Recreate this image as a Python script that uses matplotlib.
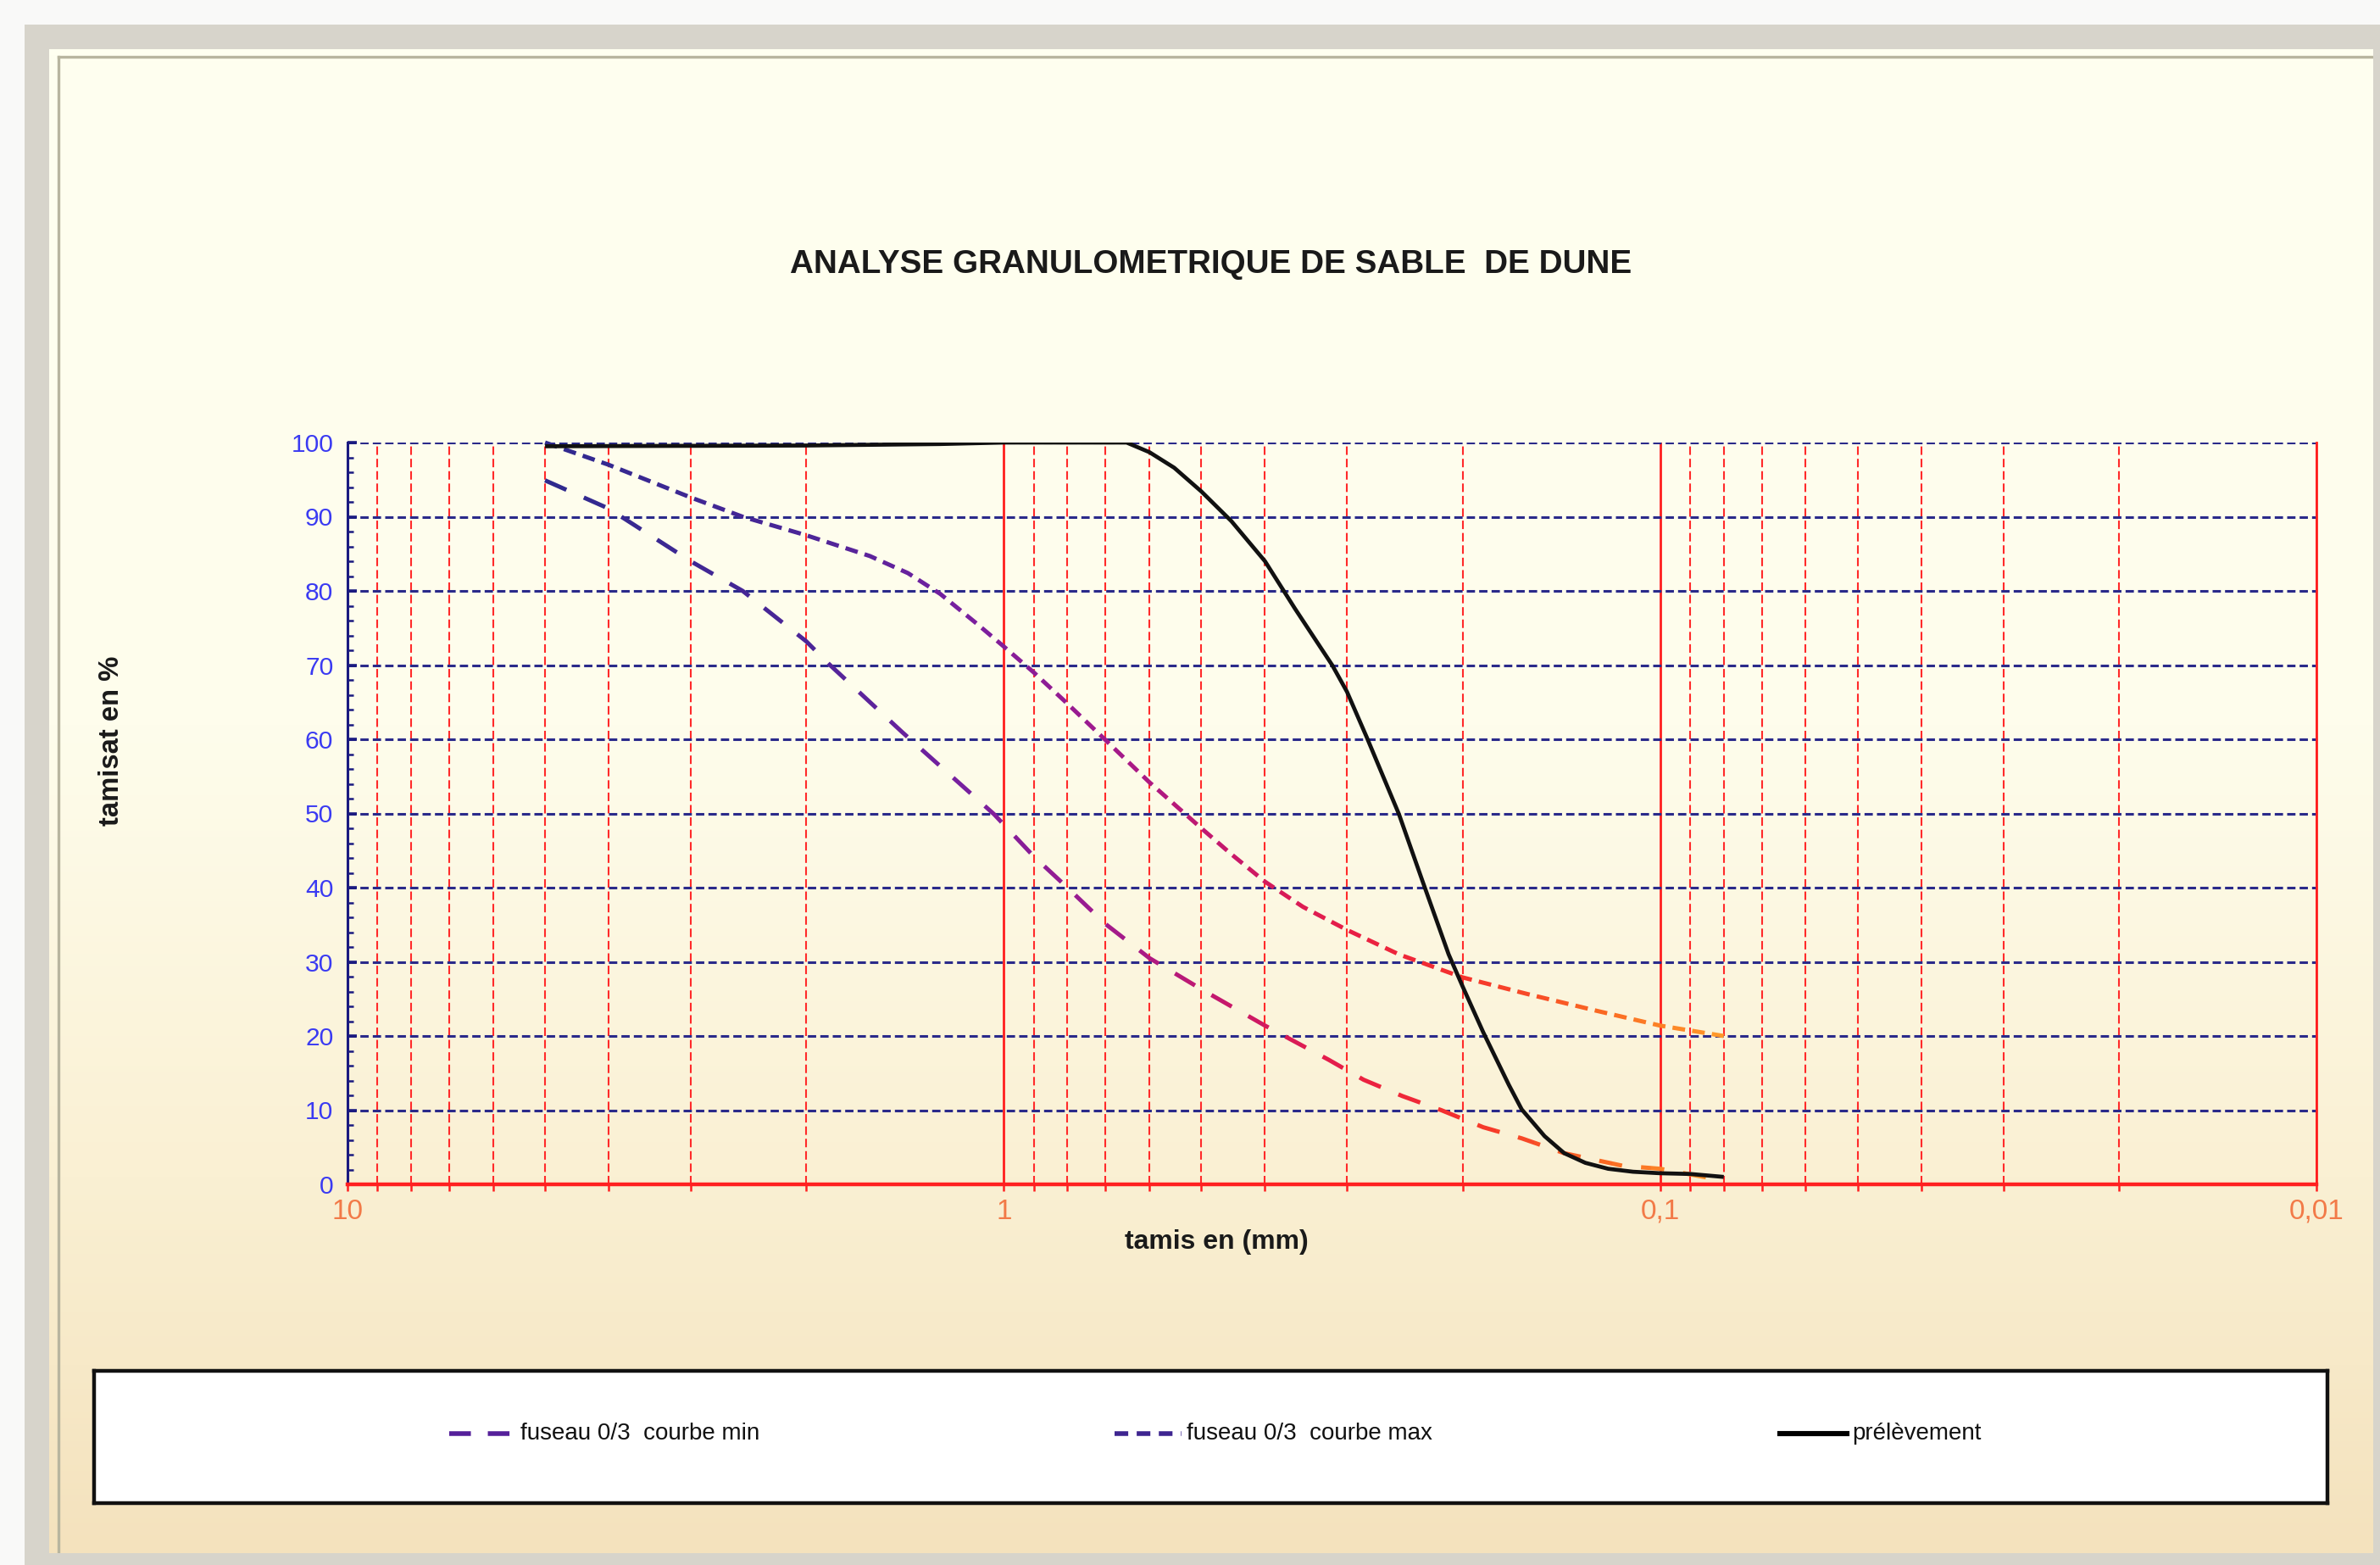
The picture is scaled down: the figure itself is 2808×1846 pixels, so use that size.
import numpy as np
import matplotlib
matplotlib.use('Agg')
import matplotlib.pyplot as plt
from matplotlib.colors import LinearSegmentedColormap
from matplotlib.patches import Rectangle
from matplotlib.ticker import FixedLocator, NullFormatter, LogLocator, MultipleLocator

plt.rcParams['font.family'] = ['Liberation Sans', 'DejaVu Sans']

# ---------------- data ----------------
tamis_max = [5, 4, 3, 2.5, 2, 1.6, 1.4, 1.25, 1.1, 1, 0.9, 0.8, 0.7, 0.6, 0.5,
             0.45, 0.4, 0.35, 0.3, 0.25, 0.2, 0.16, 0.125, 0.1, 0.08]
fuseau_max = [100, 97.0, 92.6, 90.0, 87.5, 84.7, 82.4, 79.6, 75.6, 72.5, 69.0,
              64.8, 59.9, 54.2, 48.0, 44.5, 40.8, 37.4, 34.3, 31.0, 27.9, 25.7,
              23.4, 21.4, 20.0]

tamis_min = [5, 4, 3, 2.5, 2, 1.85, 1.43, 1.035, 0.9, 0.8, 0.7, 0.6, 0.5, 0.4,
             0.32, 0.283, 0.247, 0.2155, 0.186, 0.1625, 0.14, 0.114, 0.1, 0.08]
fuseau_min = [94.9, 91.1, 84.0, 80.0, 73.2, 70.2, 61.0, 49.9, 44.2, 40.0, 35.1,
              30.5, 26.3, 21.4, 16.8, 14.1, 11.9, 10.0, 7.7, 6.2, 4.2, 2.5, 2.1,
              0.5]

tamis_prel = [5, 2, 1.25, 1, 0.8, 0.65, 0.6, 0.55, 0.5, 0.45, 0.4, 0.36, 0.316,
              0.3, 0.28, 0.25, 0.23, 0.21, 0.2, 0.186, 0.17, 0.1625, 0.15, 0.14,
              0.13, 0.12, 0.11, 0.1, 0.09, 0.08]
prelevement = [99.5, 99.6, 99.8, 100, 100, 100, 98.7, 96.6, 93.4, 89.4, 84.0,
               77.6, 70.0, 66.4, 60.3, 49.9, 40.8, 31.0, 26.7, 20.5, 13.4, 10.1,
               6.5, 4.2, 2.9, 2.1, 1.7, 1.5, 1.4, 1.0]

x_ticks = [10, 1, 0.1, 0.01]
x_tick_labels = ['10', '1', '0,1', '0,01']
y_ticks = list(range(0, 101, 10))

title = 'ANALYSE GRANULOMETRIQUE DE SABLE  DE DUNE'
x_label = 'tamis en (mm)'
y_label = 'tamisat en %'
legend_labels = ['fuseau 0/3  courbe min', 'fuseau 0/3  courbe max', 'prélèvement']

# ---------------- figure ----------------
W, H = 2808, 1846
DPI = 200
fig = plt.figure(figsize=(W / DPI, H / DPI), dpi=DPI)
fig.patch.set_facecolor('#F9F9F8')


def fx(px):
    return px / W


def fy(py):
    return 1 - py / H


# grey outer frame
fig.add_artist(Rectangle((fx(29), 0), 1 - fx(29), fy(29), transform=fig.transFigure,
                         facecolor='#D7D4CB', edgecolor='none', zorder=-20))

# cream gradient panel
bg = fig.add_axes([fx(58), fy(1832), fx(2800) - fx(58), fy(58) - fy(1832)], zorder=-5)
cmap_bg = LinearSegmentedColormap.from_list(
    'bg', [(0, '#FFFFF0'), (0.45, '#FEFDEC'), (0.75, '#FAF0D3'), (1.0, '#F4E2BD')])
grad = np.linspace(0, 1, 256).reshape(-1, 1)
bg.imshow(grad, aspect='auto', cmap=cmap_bg, extent=(0, 1, 0, 1), origin='upper')
bg.plot([0.004, 0.004], [0, 0.995], color='#B8B59F', lw=1.2, transform=bg.transAxes)
bg.plot([0.004, 1], [0.995, 0.995], color='#B8B59F', lw=1.2, transform=bg.transAxes)
bg.set_xlim(0, 1)
bg.set_ylim(0, 1)
bg.axis('off')

# ---------------- main axes ----------------
ax = fig.add_axes([fx(410), fy(1397), fx(2733) - fx(410), fy(522) - fy(1397)], zorder=1)
ax.set_facecolor('none')
ax.set_xscale('log')
ax.set_xlim(10, 0.01)
ax.set_ylim(0, 100)

ax.xaxis.set_major_locator(FixedLocator(x_ticks))
ax.set_xticklabels(x_tick_labels)
ax.xaxis.set_minor_locator(LogLocator(base=10, subs=np.arange(2, 10)))
ax.xaxis.set_minor_formatter(NullFormatter())
ax.set_yticks(y_ticks)
ax.yaxis.set_minor_locator(MultipleLocator(2))

ax.set_axisbelow(True)
ax.grid(True, which='major', axis='x', color='#FF1E1E', lw=1.0, ls='-')
ax.grid(True, which='minor', axis='x', color='#FF2A2A', lw=0.75, ls=(0, (4.8, 2.2)))
ax.grid(True, which='major', axis='y', color='#2A2A8A', lw=1.1, ls=(0, (3.2, 1.6)))

ax.spines['top'].set_visible(False)
ax.spines['right'].set_color('#FF1E1E')
ax.spines['right'].set_linewidth(1.0)
ax.spines['left'].set_color('#1A1A80')
ax.spines['left'].set_linewidth(1.1)
ax.spines['bottom'].set_color('#FF2020')
ax.spines['bottom'].set_linewidth(1.6)

ax.tick_params(axis='y', which='both', direction='in', color='#1A1A80',
               labelcolor='#3A3AF2', labelsize=10.8, pad=6)
ax.tick_params(axis='y', which='major', length=4, width=1.3)
ax.tick_params(axis='y', which='minor', length=2.5, width=0.9)
ax.tick_params(axis='x', which='both', direction='out', color='#FF2020', length=3,
               width=0.9, labelcolor='#F27A48', labelsize=12, pad=3)

# gradient-coloured dashed envelope curves
cmap_line = LinearSegmentedColormap.from_list('fus', [
    (0.0, '#2E2A8E'), (0.222, '#4C2598'), (0.345, '#7420A0'), (0.475, '#A01A8E'),
    (0.582, '#C8186A'), (0.68, '#E81E46'), (0.778, '#F5302C'), (0.902, '#FA6A22'),
    (1.0, '#FF9A2A')])
lx0 = np.log10(max(tamis_max))
lx1 = np.log10(min(tamis_max))
edges = np.logspace(np.log10(7), np.log10(0.06), 71)
for i in range(len(edges) - 1):
    xa, xb = edges[i], edges[i + 1]
    tm = (lx0 - 0.5 * (np.log10(xa) + np.log10(xb))) / (lx0 - lx1)
    c = cmap_line(float(np.clip(tm, 0, 1)))
    for xs, ys, dash in [(tamis_min, fuseau_min, (5.5, 4.5)),
                         (tamis_max, fuseau_max, (3.0, 1.7))]:
        ln, = ax.plot(xs, ys, color=c, lw=1.8, ls=(0, dash),
                      dash_capstyle='butt', zorder=2)
        ln.set_clip_path(Rectangle((xb, -10), xa - xb, 120, transform=ax.transData))

ax.plot(tamis_prel, prelevement, color='#111111', lw=1.7, zorder=3,
        solid_capstyle='butt', solid_joinstyle='round')

# ---------------- texts ----------------
fig.text(fx(1429), fy(312), title, ha='center', va='center', fontsize=13.9,
         fontweight='bold', color='#1A1A1A')
fig.text(fx(131), fy(874), y_label, rotation=90, ha='center', va='center',
         fontsize=11.8, fontweight='bold', color='#1A1A1A')
fig.text(fx(1435), fy(1465), x_label, ha='center', va='center', fontsize=11.5,
         fontweight='bold', color='#1A1A1A')

# ---------------- legend box ----------------
lg = fig.add_axes([fx(111), fy(1773), fx(2746) - fx(111), fy(1617) - fy(1773)], zorder=2)
lg.set_xlim(0, 1)
lg.set_ylim(0, 1)
lg.set_xticks([])
lg.set_yticks([])
lg.set_facecolor('white')
for s in lg.spines.values():
    s.set_color('#111111')
    s.set_linewidth(1.6)

ly = 0.526
entries = [
    (0.159, 0.189, dict(color='#55209A', lw=2.0, ls=(0, (4.6, 3.6)))),
    (0.457, 0.487, dict(color='#3E2590', lw=2.0, ls=(0, (2.9, 1.8)))),
    (0.755, 0.785, dict(color='#000000', lw=2.2, ls='-')),
]
for (x0, x1, st), lab in zip(entries, legend_labels):
    lg.plot([x0, x1], [ly, ly], dash_capstyle='butt', **st)
    lg.text(x1 + 0.002, ly, lab, ha='left', va='center', fontsize=10, color='#111111')

fig.savefig('out.png', dpi=DPI, facecolor=fig.get_facecolor())
